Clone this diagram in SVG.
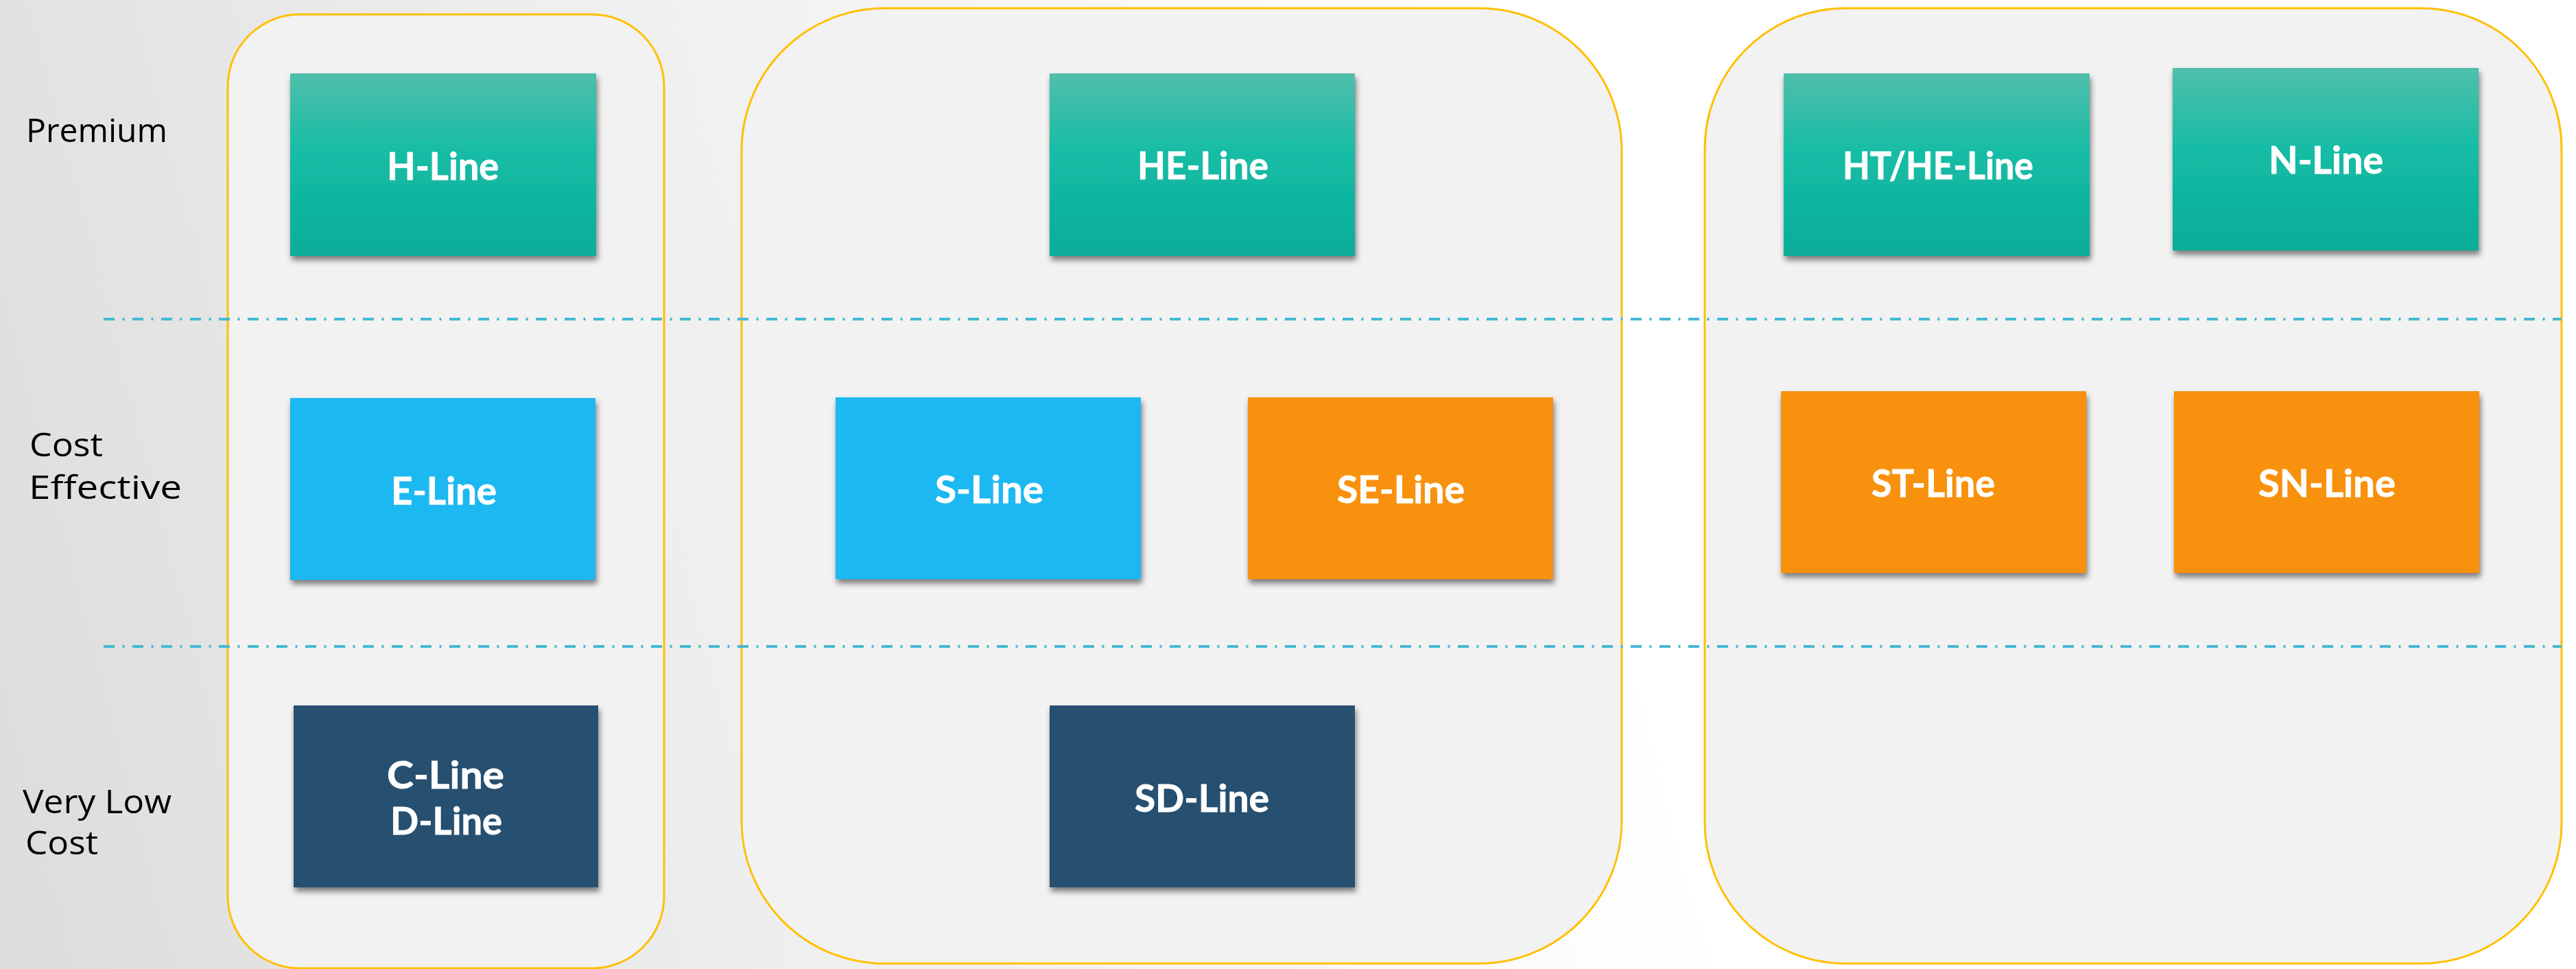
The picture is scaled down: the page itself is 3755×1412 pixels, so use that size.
<svg xmlns="http://www.w3.org/2000/svg" width="3755" height="1412" viewBox="0 0 3755 1412">
<defs>
<linearGradient id="bg" gradientUnits="userSpaceOnUse" x1="-100" y1="1000" x2="2250" y2="400">
<stop offset="0" stop-color="#dcdcdc"/><stop offset="0.45" stop-color="#eeeeee"/><stop offset="1" stop-color="#ffffff"/>
</linearGradient>
<linearGradient id="teal" x1="0" y1="0" x2="0" y2="1">
<stop offset="0" stop-color="#4fbfab"/><stop offset="0.45" stop-color="#15bca5"/><stop offset="1" stop-color="#09ad98"/>
</linearGradient>
<filter id="sh" x="-5%" y="-5%" width="110%" height="115%">
<feDropShadow dx="2" dy="6" stdDeviation="4" flood-color="#000" flood-opacity="0.5"/>
</filter>
</defs>
<style>
.panel{fill:#f2f2f2;stroke:#ffc000;stroke-width:3}
.box{filter:url(#sh)}
.teal{fill:url(#teal)}
.blue{fill:#1bb8f1}
.orange{fill:#f89111}
.navy{fill:#284f6f}
.t{font-family:Lato,"Open Sans",sans-serif;font-weight:700;font-size:56px;fill:#fff;stroke:#fff;stroke-width:0.8}
.h{font-family:"Open Sans",Lato,sans-serif;font-weight:400;font-size:48px;fill:#000}
.div{stroke:#45b9d3;stroke-width:4;stroke-dasharray:16 11.5 3 11.5;fill:none}
</style>
<rect width="3755" height="1412" fill="url(#bg)"/>
<g id="panel-1"><rect class="panel" x="332" y="21" width="636" height="1390" rx="105" ry="105"/></g>
<g id="panel-2"><rect class="panel" x="1081" y="12" width="1283" height="1392" rx="208" ry="208"/></g>
<g id="panel-3"><rect class="panel" x="2485" y="12" width="1249" height="1392" rx="205" ry="205"/></g>
<g id="connectors">
<line class="div" x1="151" y1="465" x2="3734" y2="465"/>
<line class="div" x1="151" y1="942" x2="3734" y2="942"/>
</g>
<g id="label-premium"><text class="h" x="38" y="207" textLength="206" lengthAdjust="spacingAndGlyphs">Premium</text></g>
<g id="label-cost-effective"><text class="h" x="43" y="665" textLength="107" lengthAdjust="spacingAndGlyphs">Cost</text><text class="h" x="42" y="727" textLength="223" lengthAdjust="spacingAndGlyphs">Effective</text></g>
<g id="label-very-low-cost"><text class="h" x="33" y="1185" textLength="217" lengthAdjust="spacingAndGlyphs">Very Low</text><text class="h" x="37" y="1245" textLength="106" lengthAdjust="spacingAndGlyphs">Cost</text></g>
<g id="h-line"><rect class="box teal" x="423" y="107" width="446" height="266"/><text class="t" x="564" y="262" textLength="163" lengthAdjust="spacingAndGlyphs">H-Line</text></g>
<g id="he-line"><rect class="box teal" x="1530" y="107" width="445" height="266"/><text class="t" x="1658" y="261" textLength="191" lengthAdjust="spacingAndGlyphs">HE-Line</text></g>
<g id="ht-he-line"><rect class="box teal" x="2600" y="107" width="446" height="266"/><text class="t" x="2686" y="261" textLength="278" lengthAdjust="spacingAndGlyphs">HT/HE-Line</text></g>
<g id="n-line"><rect class="box teal" x="3167" y="99" width="446" height="266"/><text class="t" x="3307" y="253" textLength="167" lengthAdjust="spacingAndGlyphs">N-Line</text></g>
<g id="e-line"><rect class="box blue" x="423" y="580" width="445" height="265"/><text class="t" x="570" y="735" textLength="154" lengthAdjust="spacingAndGlyphs">E-Line</text></g>
<g id="s-line"><rect class="box blue" x="1218" y="579" width="445" height="265"/><text class="t" x="1363" y="733" textLength="158" lengthAdjust="spacingAndGlyphs">S-Line</text></g>
<g id="se-line"><rect class="box orange" x="1819" y="579" width="445" height="265"/><text class="t" x="1949" y="733" textLength="186" lengthAdjust="spacingAndGlyphs">SE-Line</text></g>
<g id="st-line"><rect class="box orange" x="2596" y="570" width="445" height="265"/><text class="t" x="2728" y="724" textLength="180" lengthAdjust="spacingAndGlyphs">ST-Line</text></g>
<g id="sn-line"><rect class="box orange" x="3169" y="570" width="445" height="265"/><text class="t" x="3292" y="724" textLength="200" lengthAdjust="spacingAndGlyphs">SN-Line</text></g>
<g id="c-d-line"><rect class="box navy" x="428" y="1028" width="444" height="265"/><text class="t" x="564" y="1149" textLength="171" lengthAdjust="spacingAndGlyphs">C-Line</text><text class="t" x="569" y="1216" textLength="163" lengthAdjust="spacingAndGlyphs">D-Line</text></g>
<g id="sd-line"><rect class="box navy" x="1530" y="1028" width="445" height="265"/><text class="t" x="1654" y="1183" textLength="196" lengthAdjust="spacingAndGlyphs">SD-Line</text></g>
</svg>
